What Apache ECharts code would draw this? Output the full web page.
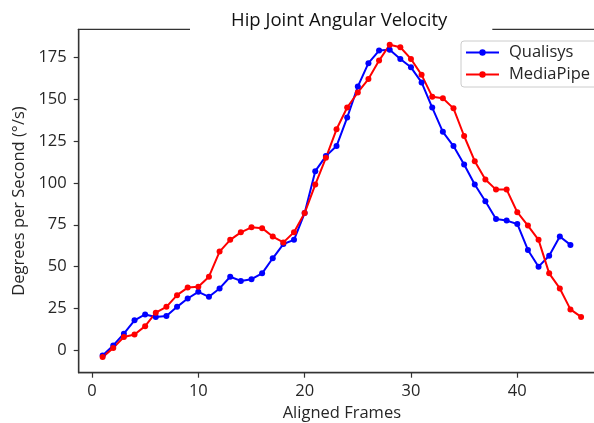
<!DOCTYPE html>
<html>
<head>
<meta charset="utf-8">
<script src="https://cdn.jsdelivr.net/npm/echarts@6/dist/echarts.min.js"></script>
<style>
html,body{margin:0;padding:0;background:#fff;overflow:hidden;}
#chart{width:594px;height:423px;}
</style>
</head>
<body>
<div id="chart"></div>
<script>
const frames = [1,2,3,4,5,6,7,8,9,10,11,12,13,14,15,16,17,18,19,20,21,22,23,24,25,26,27,28,29,30,31,32,33,34,35,36,37,38,39,40,41,42,43,44,45,46];
const qualisys = [-3,3,10,18,21.5,20,20.5,26,31,35,32,37,44,41.5,42.5,46,55,63.5,66,82,107,116,122,139,157.5,171.5,179,179.5,174,169,160,145,130.5,122,111,99,89,78.5,77.5,75.5,60,50,56.5,68,63];
const mediapipe = [-4,1.5,8,9.5,14.5,22.5,26,33,37.5,38,44,59,66,70.5,73.5,73,68,64.5,70.5,82,99,115,132,145,154,162,173,182.5,181,174,164.5,151.5,150.5,144.5,128,113,102,96,96,82.5,74.5,66,46,37,24.5,20];
const xTicks = [0,10,20,30,40];
const yTicks = [0,25,50,75,100,125,150,175];

const font = '"Open Sans", "Liberation Sans", sans-serif';
const txt = '#262626';
const chart = echarts.init(document.getElementById('chart'), null, {renderer:'canvas'});
chart.setOption({
  animation:false,
  backgroundColor:'#fff',
  title:{
    text:'Hip Joint Angular Velocity',
    left:190, top:6,
    padding:[5,45,7,41],
    backgroundColor:'#fff',
    textStyle:{fontFamily:font, fontSize:18.5, fontWeight:'normal', color:'#111'}
  },
  legend:{
    orient:'vertical',
    left:461, top:41,
    padding:[3,10,4,4],
    itemWidth:33, itemHeight:8, itemGap:5,
    borderColor:'#cccccc', borderWidth:1, borderRadius:3,
    backgroundColor:'#fff',
    textStyle:{fontFamily:font, fontSize:16.5, color:txt, padding:[0,0,0,5]},
    data:['Qualisys','MediaPipe']
  },
  grid:{show:true, left:78.7, top:29.3, width:526.3, height:343.4, containLabel:false,
        outerBoundsMode:'none',
        borderColor:'#333', borderWidth:1.3, backgroundColor:'transparent'},
  xAxis:{
    type:'value', min:-1.25, max:48.25,
    name:'Aligned Frames', nameLocation:'middle', nameGap:30,
    nameTextStyle:{fontFamily:font, fontSize:16.5, color:txt},
    axisLine:{show:true, onZero:false, lineStyle:{color:'#333', width:1.3}},
    axisTick:{show:true, length:5, inside:false, customValues:xTicks, lineStyle:{color:'#333', width:1.2}},
    axisLabel:{customValues:xTicks, margin:10, fontFamily:font, fontSize:16.5, color:txt},
    splitLine:{show:false}
  },
  yAxis:{
    type:'value', min:-13.3, max:191.7,
    name:'Degrees per Second (°/s)', nameLocation:'middle', nameGap:48, nameRotate:90,
    nameTextStyle:{fontFamily:font, fontSize:16.5, color:txt},
    axisLine:{show:true, onZero:false, lineStyle:{color:'#333', width:1.3}},
    axisTick:{show:true, length:5, inside:false, customValues:yTicks, lineStyle:{color:'#333', width:1.2}},
    axisLabel:{customValues:yTicks, margin:12, fontFamily:font, fontSize:16.5, color:txt},
    splitLine:{show:false}
  },
  series:[
    {name:'Qualisys', type:'line', data:frames.slice(0,qualisys.length).map((f,i)=>[f,qualisys[i]]),
     symbol:'circle', symbolSize:6, color:'#0000ff', lineStyle:{width:2, color:'#0000ff'}, itemStyle:{color:'#0000ff'}},
    {name:'MediaPipe', type:'line', data:frames.map((f,i)=>[f,mediapipe[i]]),
     symbol:'circle', symbolSize:6, color:'#ff0000', lineStyle:{width:2, color:'#ff0000'}, itemStyle:{color:'#ff0000'}}
  ]
});
</script>
</body>
</html>
